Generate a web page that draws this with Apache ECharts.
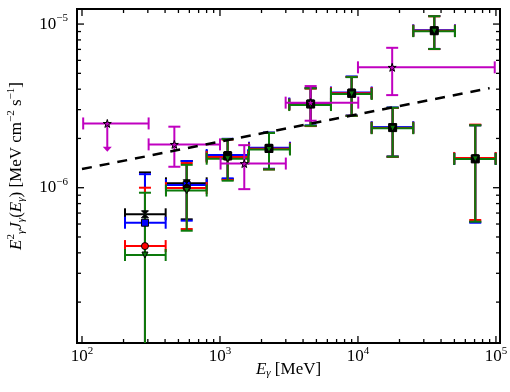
<!DOCTYPE html>
<html><head><meta charset="utf-8">
<script src="https://cdn.jsdelivr.net/npm/echarts@6/dist/echarts.min.js"></script>
<style>html,body{margin:0;padding:0;background:#fff}#c{width:510px;height:392px}</style>
</head><body><div id="c"></div>
<script>
// ---- axis ranges & ticks ----
const X_MIN = 92, X_MAX = 107000;
const Y_MIN = 1.125e-7, Y_MAX = 1.236e-5;
const xMajorTicks = [100, 1000, 10000, 100000];
const yMajorTicks = [1e-6, 1e-5];
const minorMultipliers = [2, 3, 4, 5, 6, 7, 8, 9];

// ---- energy bins (MeV) ----
const binE  = [286, 574, 1137, 2265, 4541, 9000, 17840, 35720, 70800];
const binLo = [205, 406, 801, 1623, 3178, 6373, 12570, 25160, 49870];
const binHi = [404, 801, 1604, 3215, 6373, 12570, 25160, 50460, 99500];

// black series
const blackF   = [6.88e-7, 1.064e-6, 1.562e-6, 1.736e-6, 3.245e-6, 3.77e-6, 2.33e-6, 9.10e-6, 1.50e-6];
const blackUp  = [1.24e-6, 1.456e-6, 1.98e-6, 2.17e-6, 4.05e-6, 4.76e-6, 3.08e-6, 1.119e-5, 2.405e-6];
const blackDn  = [null, 6.41e-7, 1.13e-6, 1.30e-6, 2.39e-6, 2.75e-6, 1.547e-6, 7.04e-6, 6.2e-7];
// blue series
const blueF    = [6.11e-7, 1.039e-6, 1.584e-6, 1.755e-6, 3.27e-6, 3.82e-6, 2.34e-6, 9.15e-6, 1.51e-6];
const blueUp   = [1.21e-6, 1.456e-6, 1.99e-6, 2.17e-6, 4.07e-6, 4.78e-6, 3.09e-6, 1.12e-5, 2.41e-6];
const blueDn   = [null, 6.29e-7, 1.141e-6, 1.306e-6, 2.40e-6, 2.76e-6, 1.55e-6, 7.05e-6, 6.11e-7];
// red series
const redF     = [4.40e-7, 9.96e-7, 1.54e-6, 1.73e-6, 3.22e-6, 3.78e-6, 2.32e-6, 9.10e-6, 1.52e-6];
const redUp    = [1.0e-6, 1.415e-6, 1.97e-6, 2.16e-6, 4.04e-6, 4.75e-6, 3.07e-6, 1.115e-5, 2.43e-6];
const redDn    = [null, 5.59e-7, 1.115e-6, 1.295e-6, 2.38e-6, 2.75e-6, 1.545e-6, 7.03e-6, 6.35e-7];
// green series
const greenF   = [3.88e-7, 9.61e-7, 1.504e-6, 1.712e-6, 3.20e-6, 3.74e-6, 2.31e-6, 9.05e-6, 1.50e-6];
const greenUp  = [9.32e-7, 1.38e-6, 1.98e-6, 2.16e-6, 4.05e-6, 4.74e-6, 3.08e-6, 1.117e-5, 2.41e-6];
const greenDn  = [null, 5.46e-7, 1.104e-6, 1.292e-6, 2.39e-6, 2.75e-6, 1.547e-6, 7.04e-6, 6.2e-7];

// magenta stars
const starE  = [152.5, 467, 1500, 4541, 17700];
const starLo = [102, 304, 1010, 2992, 10000];
const starHi = [304, 1000, 3000, 10050, 98000];
const starF  = [2.47e-6, 1.84e-6, 1.405e-6, 3.31e-6, 5.44e-6];
const starUp = [null, 2.36e-6, 1.82e-6, 4.18e-6, 7.16e-6];
const starDn = [1.66e-6, 1.343e-6, 9.8e-7, 2.567e-6, 3.68e-6];
const starUL = [true, false, false, false, false];

// dashed power law
const lineE = [100, 90000];
const lineF = [1.3e-6, 4.06e-6];

// ---- helpers ----
const FONT = 'Liberation Serif';
const xTicks = [];
xMajorTicks.forEach(m => { xTicks.push(m); if (m < 100000) minorMultipliers.forEach(k => xTicks.push(k * m)); });
const yTicks = [];
[1e-7, 1e-6, 1e-5].forEach(m => { yTicks.push(m); minorMultipliers.forEach(k => yTicks.push(k * m)); });
const yTicksIn = yTicks.filter(v => v >= Y_MIN && v <= Y_MAX);
const xTicksIn = xTicks.filter(v => v >= X_MIN && v <= X_MAX);
function isMajor(v) { const l = Math.log10(v); return Math.abs(l - Math.round(l)) < 1e-6; }

function errSeries(color, E, Elo, Ehi, F, Fup, Fdn, UL) {
  return {
    type: 'custom', coordinateSystem: 'cartesian2d', silent: true, clip: true,
    data: E.map((e, i) => [e, F[i]]),
    renderItem: function (params, api) {
      const i = params.dataIndex;
      const cs = params.coordSys;
      const c = api.coord([E[i], F[i]]);
      const xl = api.coord([Elo[i], F[i]])[0];
      const xh = api.coord([Ehi[i], F[i]])[0];
      const st = { stroke: color, lineWidth: 2 };
      const cap = 6;
      const ch = [];
      ch.push({ type: 'line', shape: { x1: xl, y1: c[1], x2: xh, y2: c[1] }, style: st });
      ch.push({ type: 'line', shape: { x1: xl, y1: c[1] - cap, x2: xl, y2: c[1] + cap }, style: st });
      ch.push({ type: 'line', shape: { x1: xh, y1: c[1] - cap, x2: xh, y2: c[1] + cap }, style: st });
      if (UL && UL[i]) {
        const yb = api.coord([E[i], Fdn[i]])[1];
        ch.push({ type: 'line', shape: { x1: c[0], y1: c[1], x2: c[0], y2: yb - 4 }, style: st });
        ch.push({ type: 'polygon', shape: { points: [[c[0] - 4.5, yb - 5], [c[0] + 4.5, yb - 5], [c[0], yb]] }, style: { fill: color } });
      } else {
        const yt = Fup[i] != null ? api.coord([E[i], Fup[i]])[1] : c[1];
        const yb = Fdn[i] != null ? api.coord([E[i], Fdn[i]])[1] : cs.y + cs.height;
        ch.push({ type: 'line', shape: { x1: c[0], y1: yt, x2: c[0], y2: yb }, style: st });
        if (Fup[i] != null) ch.push({ type: 'line', shape: { x1: c[0] - cap, y1: yt, x2: c[0] + cap, y2: yt }, style: st });
        if (Fdn[i] != null) ch.push({ type: 'line', shape: { x1: c[0] - cap, y1: yb, x2: c[0] + cap, y2: yb }, style: st });
      }
      return { type: 'group', children: ch };
    }
  };
}
function ptSeries(E, F, symbol, size, fill, rotate) {
  return {
    type: 'scatter', silent: true, symbol: symbol, symbolSize: size, symbolRotate: rotate || 0,
    itemStyle: { color: fill, borderColor: '#000', borderWidth: 1, opacity: 1 },
    data: E.map((e, i) => [e, F[i]])
  };
}

const STAR = 'path://M50,0L61,35L98,35L68,57L79,91L50,70L21,91L32,57L2,35L39,35Z';
const BOWTIE = 'path://M0,0L10,0L5,5L10,10L0,10L5,5Z';
const supRich = {
  s: { fontFamily: FONT, fontSize: 11, color: '#000', padding: [0, 0, 11, 0] },
  b: { fontFamily: FONT, fontSize: 17, color: '#000' }
};
function powLabel(v) {
  if (!isMajor(v)) return '';
  const e = Math.round(Math.log10(v));
  return '{b|10}{s|' + (e < 0 ? '\u2212' + (-e) : e) + '}';
}

const GREEN = '#0c7a0c', BLUE = '#0000ff', RED = '#ff0000', MAG = '#c000c0';

// black markers: bow-tie where separated, filled square where stacked
const blackPts = ptSeries(binE, blackF, 'rect', 8, '#000');
blackPts.data = binE.map((e, i) => i < 2
  ? { value: [e, blackF[i]], symbol: BOWTIE, symbolSize: 7 }
  : { value: [e, blackF[i]] });

const tickStyle = { stroke: '#000', lineWidth: 1.3 };
const option = {
  animation: false,
  backgroundColor: '#fff',
  grid: { left: 77, top: 9, width: 423, height: 334, show: true, borderColor: '#000', borderWidth: 2,
          backgroundColor: 'transparent', containLabel: false, outerBoundsMode: 'none' },
  xAxis: {
    type: 'log', logBase: 10, min: X_MIN, max: X_MAX,
    axisLine: { show: false }, axisTick: { show: false }, splitLine: { show: false }, minorTick: { show: false },
    axisLabel: { formatter: powLabel, rich: supRich, margin: 3, fontFamily: FONT, fontSize: 17, color: '#000', showMinLabel: true, showMaxLabel: true },
    name: '{i|E}{sb|\u03b3} [MeV]', nameLocation: 'middle', nameGap: 17, nameMoveOverlap: false,
    nameTextStyle: { fontFamily: FONT, fontSize: 17, color: '#000',
      rich: { i: { fontFamily: FONT, fontSize: 17, fontStyle: 'italic', color: '#000' },
              sb: { fontFamily: FONT, fontSize: 11, fontStyle: 'italic', color: '#000', padding: [8, 0, 0, 0] } } }
  },
  yAxis: {
    type: 'log', logBase: 10, min: Y_MIN, max: Y_MAX,
    axisLine: { show: false }, axisTick: { show: false }, splitLine: { show: false }, minorTick: { show: false },
    axisLabel: { formatter: powLabel, rich: supRich, margin: 9, fontFamily: FONT, fontSize: 17, color: '#000' },
    name: '{i|E}{sp|2}{sb|\u03b3}{i|J}{sb|\u03b3}({i|E}{sb|\u03b3}) [MeV cm{sp|\u22122} s{sp|\u22121}]',
    nameLocation: 'middle', nameGap: 49, nameRotate: 90,
    nameTextStyle: { fontFamily: FONT, fontSize: 17, color: '#000', padding: [0, 0, 0, 20],
      rich: { i: { fontFamily: FONT, fontSize: 17, fontStyle: 'italic', color: '#000' },
              sp: { fontFamily: FONT, fontSize: 11, color: '#000', padding: [0, 0, 11, 0] },
              sb: { fontFamily: FONT, fontSize: 11, fontStyle: 'italic', color: '#000', padding: [8, 0, 0, 0] } } }
  },
  series: [
    // x ticks (all four sides drawn from axis scale)
    { type: 'custom', silent: true, data: xTicksIn.map(v => [v, 1e-6]),
      renderItem: function (params, api) {
        const v = xTicksIn[params.dataIndex]; const cs = params.coordSys;
        const x = api.coord([v, 1e-6])[0]; const L = isMajor(v) ? 7 : 4;
        const b = cs.y + cs.height, t = cs.y;
        return { type: 'group', children: [
          { type: 'line', shape: { x1: x, y1: b, x2: x, y2: b - L }, style: tickStyle },
          { type: 'line', shape: { x1: x, y1: t, x2: x, y2: t + L }, style: tickStyle } ] };
      } },
    { type: 'custom', silent: true, data: yTicksIn.map(v => [1000, v]),
      renderItem: function (params, api) {
        const v = yTicksIn[params.dataIndex]; const cs = params.coordSys;
        const y = api.coord([1000, v])[1]; const L = isMajor(v) ? 7 : 4;
        const l = cs.x, r = cs.x + cs.width;
        return { type: 'group', children: [
          { type: 'line', shape: { x1: l, y1: y, x2: l + L, y2: y }, style: tickStyle },
          { type: 'line', shape: { x1: r, y1: y, x2: r - L, y2: y }, style: tickStyle } ] };
      } },
    errSeries('#000', binE, binLo, binHi, blackF, blackUp, blackDn),
    errSeries(BLUE, binE, binLo, binHi, blueF, blueUp, blueDn),
    errSeries(RED, binE, binLo, binHi, redF, redUp, redDn),
    errSeries(GREEN, binE, binLo, binHi, greenF, greenUp, greenDn),
    ptSeries(binE, blueF, 'rect', 7, BLUE),
    ptSeries(binE, redF, 'circle', 7, RED),
    blackPts,
    ptSeries(binE, greenF, 'triangle', 6, GREEN, 180),
    errSeries(MAG, starE, starLo, starHi, starF, starUp, starDn, starUL),
    ptSeries(starE, starF, STAR, 8, MAG),
    { type: 'line', silent: true, showSymbol: false, symbol: 'none',
      data: lineE.map((e, i) => [e, lineF[i]]),
      lineStyle: { color: '#000', width: 2.5, type: [10, 8] } }
  ]
};
const chart = echarts.init(document.getElementById('c'), null, { renderer: 'canvas' });
chart.setOption(option);
</script></body></html>
